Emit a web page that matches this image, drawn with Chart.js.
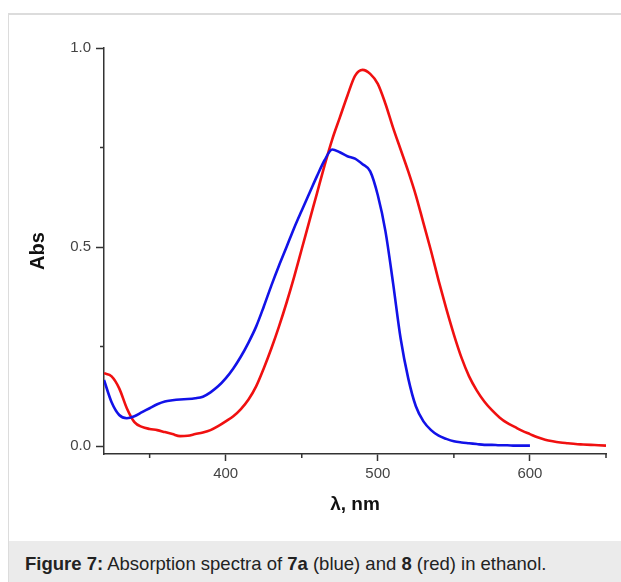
<!DOCTYPE html>
<html>
<head>
<meta charset="utf-8">
<script src="https://cdn.jsdelivr.net/npm/chart.js@4/dist/chart.umd.min.js"></script>
<style>
  html, body { margin: 0; padding: 0; background: #fff; }
  body { width: 621px; height: 582px; position: relative; overflow: hidden; font-family: "Liberation Sans", Arial, sans-serif; }
  #frame { position: absolute; left: 8px; top: 13px; width: 613px; height: 569px; border-left: 1px solid #dcdcdc; border-top: 2px solid #dcdcdc; }
  #plot { position: absolute; left: 0; top: 0; }
  #caption { position: absolute; left: 9px; top: 541px; width: 612px; height: 41px; background: #ebebeb; color: #222; font-size: 18.5px; line-height: 20px; box-sizing: border-box; padding: 13px 0 0 16px; white-space: nowrap; }
</style>
</head>
<body>
<div id="frame"></div>
<canvas id="plot" width="621" height="541"></canvas>
<div id="caption"><b>Figure 7:</b> Absorption spectra of <b>7a</b> (blue) and <b>8</b> (red) in ethanol.</div>
<script>
// Dataset: 7a (blue), 320-600 nm
const waveBlue = [320,325,330,335,340,345,350,355,360,365,370,375,380,385,390,395,400,405,410,415,420,425,430,435,440,445,450,455,460,465,470,475,480,485,490,495,500,505,510,515,520,525,530,535,540,545,550,555,560,565,570,575,580,585,590,595,600];
const absBlue = [0.166,0.110,0.078,0.070,0.075,0.085,0.095,0.105,0.112,0.115,0.117,0.118,0.120,0.124,0.135,0.150,0.170,0.195,0.225,0.260,0.300,0.350,0.403,0.453,0.500,0.548,0.592,0.635,0.678,0.718,0.745,0.738,0.728,0.722,0.708,0.690,0.630,0.540,0.410,0.270,0.170,0.100,0.062,0.040,0.026,0.018,0.012,0.009,0.007,0.005,0.003,0.003,0.002,0.002,0.001,0.001,0.001];

// Dataset: 8 (red), 320-650 nm
const waveRed = [320,325,330,335,340,345,350,355,360,365,370,375,380,385,390,395,400,405,410,415,420,425,430,435,440,445,450,455,460,465,470,475,480,485,490,495,500,505,510,515,520,525,530,535,540,545,550,555,560,565,570,575,580,585,590,595,600,605,610,615,620,625,630,635,640,645,650];
const absRed = [0.183,0.175,0.145,0.095,0.060,0.048,0.043,0.040,0.035,0.030,0.025,0.026,0.030,0.034,0.040,0.050,0.062,0.075,0.093,0.117,0.150,0.195,0.245,0.300,0.360,0.425,0.495,0.565,0.635,0.705,0.770,0.825,0.880,0.930,0.945,0.935,0.910,0.860,0.800,0.745,0.690,0.630,0.560,0.490,0.415,0.345,0.280,0.222,0.175,0.140,0.112,0.090,0.072,0.058,0.048,0.038,0.030,0.022,0.016,0.012,0.009,0.007,0.005,0.004,0.003,0.002,0.001];

// Ticks
const xTicks = [350,400,450,500,550,600,650];
const xMajor = [400,500,600];
const yTicks = [0,0.25,0.5,0.75,1.0];
const yMajor = [0,0.5,1.0];

const AXIS = '#333';
const TICKTXT = '#444';

const toPoints = (xs, ys) => xs.map((x, i) => ({ x: x, y: ys[i] }));

// short minor ticks (Chart.js only does one tick length)
const minorTicks = {
  id: 'minorTicks',
  afterDraw(chart) {
    const ctx = chart.ctx;
    const xs = chart.scales.x, ys = chart.scales.y;
    const area = chart.chartArea;
    ctx.save();
    ctx.strokeStyle = AXIS;
    ctx.lineWidth = 1.5;
    ctx.beginPath();
    xTicks.filter(v => !xMajor.includes(v)).forEach(v => {
      const px = xs.getPixelForValue(v);
      ctx.moveTo(px, area.bottom);
      ctx.lineTo(px, area.bottom + 4);
    });
    yTicks.filter(v => !yMajor.includes(v)).forEach(v => {
      const py = ys.getPixelForValue(v);
      ctx.moveTo(area.left, py);
      ctx.lineTo(area.left - 4, py);
    });
    ctx.stroke();
    ctx.restore();
  }
};

const data = {
  datasets: [
    {
      label: '7a',
      data: toPoints(waveBlue, absBlue),
      borderColor: '#1212e8',
      borderWidth: 2.6,
    },
    {
      label: '8',
      data: toPoints(waveRed, absRed),
      borderColor: '#f01010',
      borderWidth: 2.6,
    },
  ],
};

const config = {
  type: 'line',
  data: data,
  options: {
    responsive: false,
    animation: false,
    layout: { padding: { left: 20, right: 15, top: 48, bottom: 17 } },
    elements: {
      point: { radius: 0 },
      line: { cubicInterpolationMode: 'monotone', fill: false },
    },
    plugins: {
      legend: { display: false },
      tooltip: { enabled: false },
    },
    scales: {
      x: {
        type: 'linear',
        min: 320,
        max: 650,
        afterBuildTicks: s => { s.ticks = xTicks.map(v => ({ value: v })); },
        afterFit: s => { s.height = 70; },
        ticks: {
          autoSkip: false,
          maxRotation: 0,
          padding: 4,
          color: TICKTXT,
          font: { family: '"Liberation Sans", Arial, sans-serif', size: 15 },
          callback: v => (xMajor.includes(v) ? String(v) : ''),
        },
        grid: {
          drawOnChartArea: false,
          drawTicks: true,
          tickLength: 7,
          tickWidth: 1.5,
          tickColor: c => (c.tick && xMajor.includes(c.tick.value) ? AXIS : 'rgba(0,0,0,0)'),
        },
        border: { display: true, color: AXIS, width: 1.5 },
        title: {
          display: true,
          text: 'λ, nm',
          color: '#111',
          font: { family: '"Liberation Sans", Arial, sans-serif', size: 19, weight: 'bold' },
          padding: { top: 0, bottom: 8 },
        },
      },
      y: {
        type: 'linear',
        min: -0.02,
        max: 1.0,
        afterBuildTicks: s => { s.ticks = yTicks.map(v => ({ value: v })); },
        afterFit: s => { s.width = 84; },
        ticks: {
          autoSkip: false,
          padding: 5,
          color: TICKTXT,
          font: { family: '"Liberation Sans", Arial, sans-serif', size: 15 },
          callback: v => (yMajor.includes(v) ? v.toFixed(1) : ''),
        },
        grid: {
          drawOnChartArea: false,
          drawTicks: true,
          tickLength: 8,
          tickWidth: 1.5,
          tickColor: c => (c.tick && yMajor.includes(c.tick.value) ? AXIS : 'rgba(0,0,0,0)'),
        },
        border: { display: true, color: AXIS, width: 1.5 },
        title: {
          display: true,
          text: 'Abs',
          color: '#111',
          font: { family: '"Liberation Sans", Arial, sans-serif', size: 20, weight: 'bold' },
          padding: { top: 6, bottom: 0 },
        },
      },
    },
  },
  plugins: [minorTicks],
};

// Plotting
let plotCtx = document.getElementById('plot').getContext('2d');
let spectraChart = new Chart(plotCtx, config);
</script>
</body>
</html>
